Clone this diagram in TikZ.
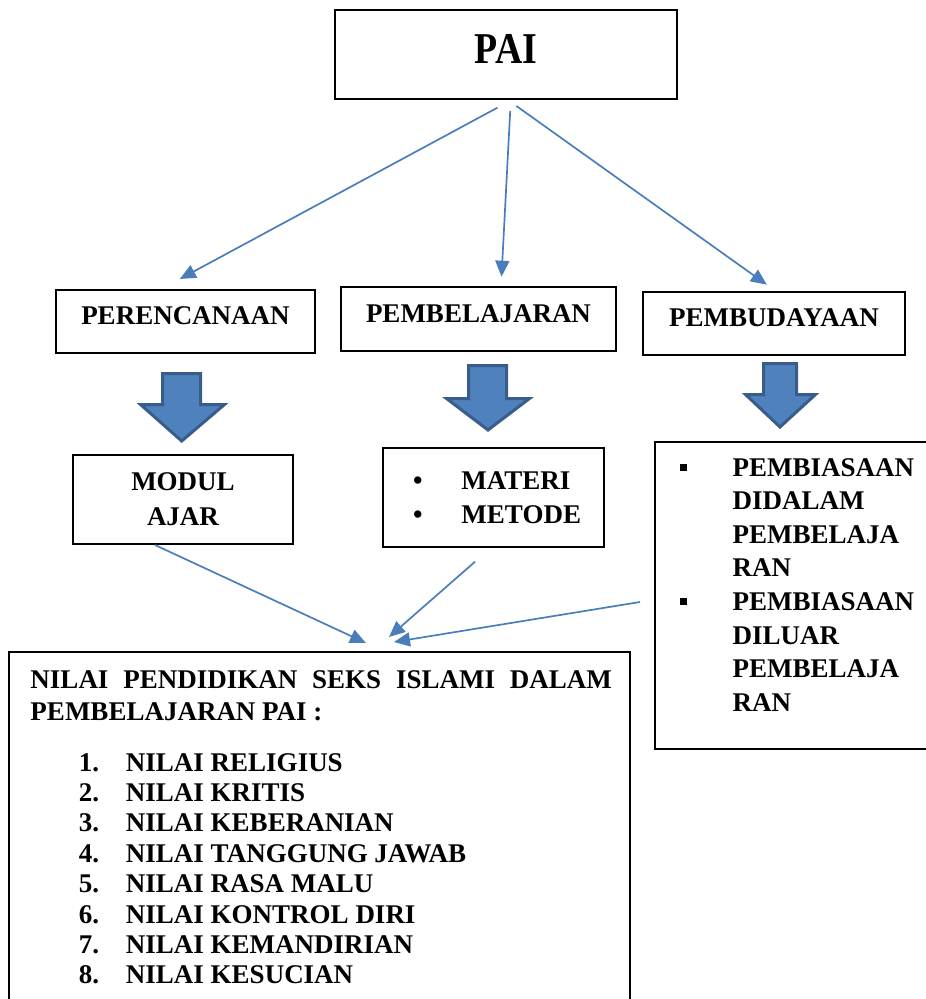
\documentclass[tikz,border=0pt]{standalone}
\usepackage{fontspec}
\setmainfont{Liberation Serif}
\newfontfamily\paifamily[FakeStretch=0.86]{Liberation Serif}
\usetikzlibrary{arrows.meta}
\usetikzlibrary{calc}
\definecolor{linkblue}{RGB}{74,126,187}
\definecolor{arrowfill}{RGB}{79,129,189}
\definecolor{arrowedge}{RGB}{56,93,138}
\newcommand{\boxfont}{\fontsize{27}{33}\selectfont\bfseries}
\tikzset{box/.style={draw, line width=2pt, inner sep=0pt, font=\boxfont},
  onebox/.style={box, text height=18pt, text depth=11.3pt},
  conn/.style={draw=linkblue, line width=1.7pt, -{Triangle[length=16pt,width=14pt]}},
  bigarrow/.style={fill=arrowfill, draw=arrowedge, line width=3pt}}

\begin{document}
\begin{tikzpicture}[x=1pt,y=-1pt]
      \fill [white] (0,0) rectangle (926,999);
      \useasboundingbox (0,0) rectangle (926,999);

      \node [onebox, minimum width=342pt, minimum height=89pt, font=\paifamily\fontsize{44}{50}\selectfont\bfseries, text height=29pt, text depth=11.2pt] (pai) at (506,54.5) {PAI};

      \node [onebox, minimum width=259pt, minimum height=63pt] (per) at (185.5,321.5) {PERENCANAAN};
      \node [onebox, minimum width=275pt, minimum height=64pt] (pem) at (478.5,319) {PEMBELAJARAN};
      \node [onebox, minimum width=262pt, minimum height=63pt] (bud) at (774,323.5) {PEMBUDAYAAN};

      \draw [conn] ($(pai.south)+(-8.6,7.7)$) -- ($(per.north)+(-5.7,-10)$);
      \draw [conn] ($(pai.south)+(4.2,11)$) -- ($(pem.north)+(23,-9.3)$);
      \draw [conn] ($(pai.south)+(10.4,6)$) -- ($(bud.north)+(-7.2,-6.3)$);

      \draw [bigarrow] (162.5,373.5) -- (200.5,373.5) -- (200.5,404.5) -- (224.5,404.5) -- (181.7,441) -- (140.5,404.5) -- (162.5,404.5) -- cycle;
      \draw [bigarrow] (468.5,365.5) -- (506.5,365.5) -- (506.5,398.5) -- (529.5,398.5) -- (488,430) -- (446.5,398.5) -- (468.5,398.5) -- cycle;
      \draw [bigarrow] (763.5,363.5) -- (796.5,363.5) -- (796.5,394.5) -- (815.5,394.5) -- (780,427) -- (745.5,394.5) -- (763.5,394.5) -- cycle;

      \node [box, align=center, font=\fontsize{27}{35}\selectfont\bfseries, minimum width=220pt, minimum height=89pt] (modul) at (183,499.5) {MODUL\\AJAR};
      \node [box, align=left, font=\fontsize{27}{34}\selectfont\bfseries, text width=221pt, minimum height=99pt] (mat) at (493.5,497.5) {\hspace*{30pt}\makebox[48.5pt][l]{•}MATERI\\ \hspace*{30pt}\makebox[48.5pt][l]{•}METODE};

      \node [box, anchor=north west] (biasa) at (654,441) {\begin{minipage}[t][307pt][t]{291pt}
        \fontsize{27}{33.6}\selectfont\bfseries
        \vspace*{16.3pt}
        \hspace*{25pt}\makebox[52.7pt][l]{\raisebox{5.4pt}{\rule{7pt}{7pt}}}PEMBIASAAN\\
        \hspace*{77.7pt}DIDALAM\\
        \hspace*{77.7pt}PEMBELAJA\\
        \hspace*{77.7pt}RAN\\
        \hspace*{25pt}\makebox[52.7pt][l]{\raisebox{5.4pt}{\rule{7pt}{7pt}}}PEMBIASAAN\\
        \hspace*{77.7pt}DILUAR\\
        \hspace*{77.7pt}PEMBELAJA\\
        \hspace*{77.7pt}RAN
      \end{minipage}};

      \node [box, anchor=north west] (nilai) at (8,651) {\begin{minipage}[t][368pt][t]{621pt}
        \fontsize{27}{32.5}\selectfont\bfseries
        \vspace*{18.3pt}
        \hspace*{21.5pt}\makebox[581.5pt][s]{NILAI PENDIDIKAN SEKS ISLAMI DALAM}\\
        \hspace*{21.5pt}PEMBELAJARAN PAI :\par
        \fontsize{27}{30.4}\selectfont
        \vspace{20pt}
        \hspace*{70pt}\makebox[47pt][l]{1.}NILAI RELIGIUS\\
        \hspace*{70pt}\makebox[47pt][l]{2.}NILAI KRITIS\\
        \hspace*{70pt}\makebox[47pt][l]{3.}NILAI KEBERANIAN\\
        \hspace*{70pt}\makebox[47pt][l]{4.}NILAI TANGGUNG JAWAB\\
        \hspace*{70pt}\makebox[47pt][l]{5.}NILAI RASA MALU\\
        \hspace*{70pt}\makebox[47pt][l]{6.}NILAI KONTROL DIRI\\
        \hspace*{70pt}\makebox[47pt][l]{7.}NILAI KEMANDIRIAN\\
        \hspace*{70pt}\makebox[47pt][l]{8.}NILAI KESUCIAN
      \end{minipage}};

      \draw [conn] ($(modul.south)+(-28,0)$) -- ($(nilai.north)+(46.5,-8)$);
      \draw [conn] ($(mat.south)+(-18.5,13.7)$) -- ($(nilai.north)+(69.5,-14)$);
      \draw [conn] ($(biasa.west)+(-14,6.5)$) -- ($(nilai.north)+(74.5,-9)$);
    \end{tikzpicture}
\end{document}
